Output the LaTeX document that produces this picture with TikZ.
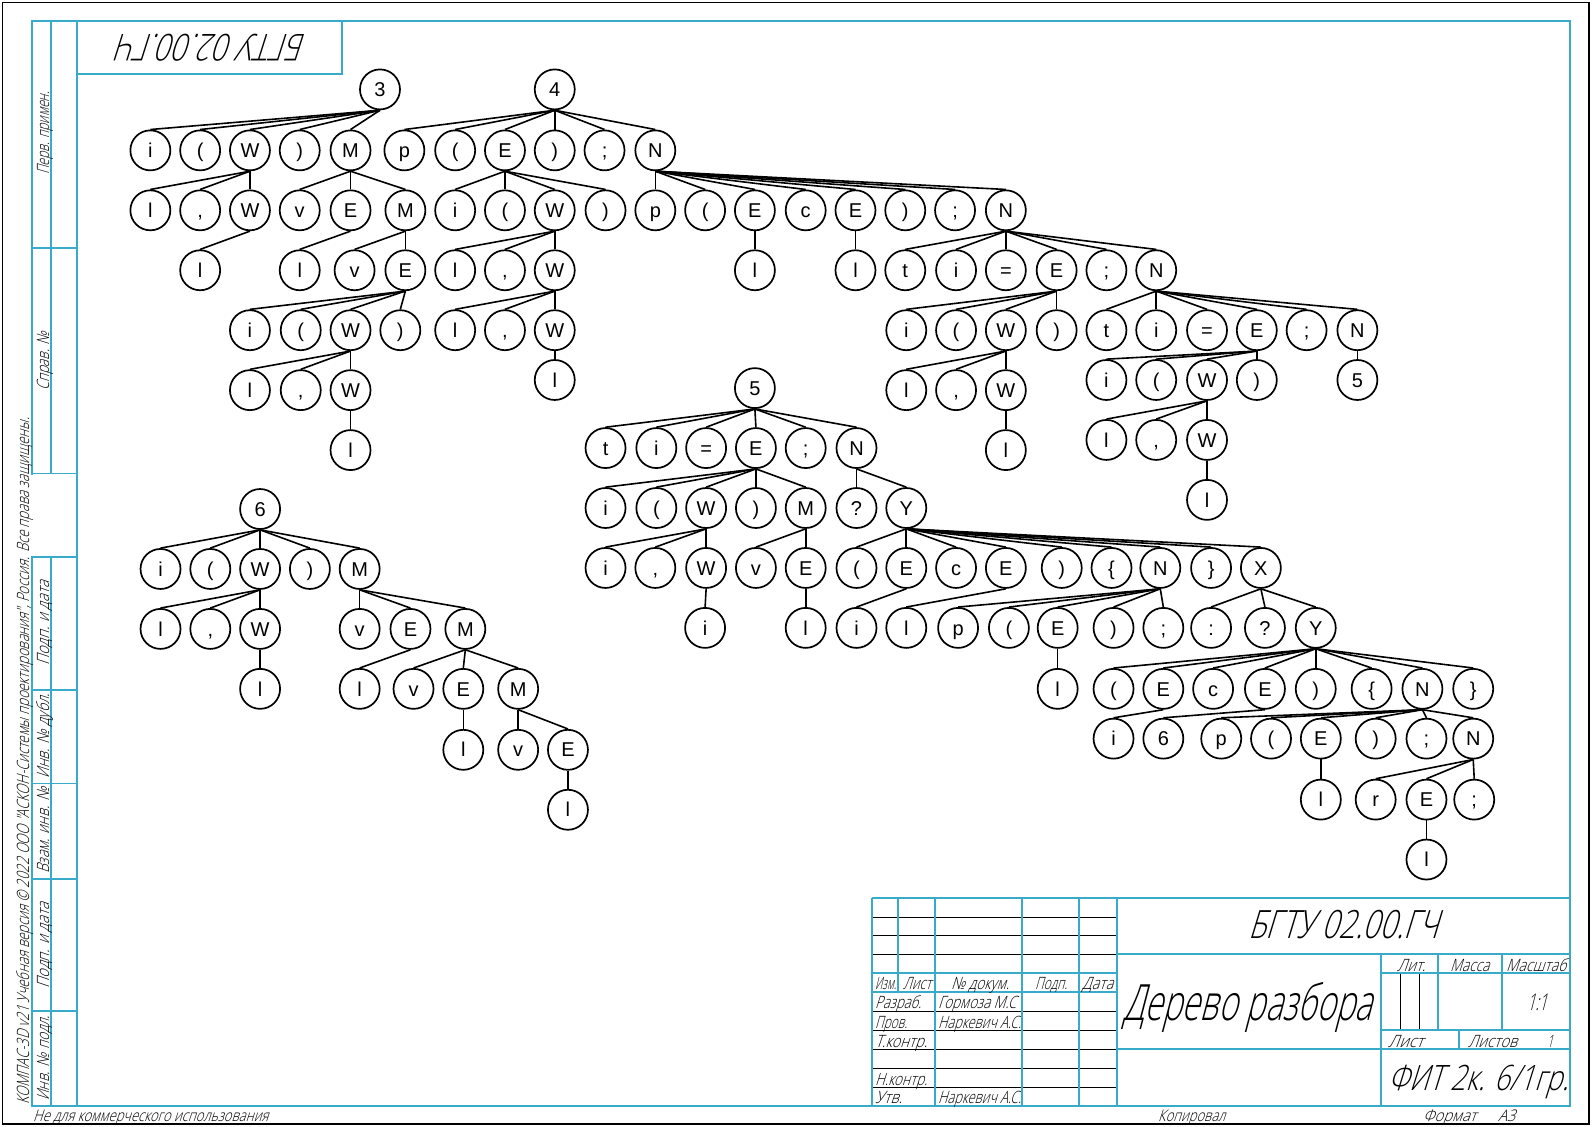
\documentclass[tikz,border=0pt]{standalone}
\usepackage{fontspec}
\usepackage{graphicx}
\setmainfont{Liberation Sans}
\newfontfamily\gost[FakeStretch=0.7,FakeSlant=0.28]{Open Sans Light}
\definecolor{fr}{HTML}{38ABCB}
\newcount\lblc
\newcommand{\lbl}[5]{% x1 x2 baseline size text
  \global\advance\lblc by 1
  \pgfmathsetmacro{\lw}{#2-#1}%
  \node[anchor=base west,inner sep=0pt] (lbl\the\lblc) at (#1,#3) {\fontsize{#4}{#4}\selectfont\gost\resizebox{\lw pt}{\height}{#5}};}
\newcommand{\vlbl}[5]{% y-bottom y-top baseline-x size text
  \global\advance\lblc by 1
  \pgfmathsetmacro{\lw}{#1-#2}%
  \node[anchor=base west,inner sep=0pt,rotate=90] (lbl\the\lblc) at (#3,#1) {\fontsize{#4}{#4}\selectfont\gost\resizebox{\lw pt}{\height}{#5}};}
\newcommand{\tn}[4]{\node[tnode] (#1) at (#2,#3) {#4};}
\newcommand{\kids}[2]{\foreach \c in {#2}{\draw[tedge] (#1.south) -- (\c.north);}}
\tikzset{
  tnode/.style={circle,draw=black,line width=1.7pt,fill=white,minimum size=40pt,inner sep=0pt,text height=14.3pt,text depth=0pt,font=\fontsize{20}{20}\selectfont},
  tedge/.style={draw=black,line width=1.6pt},
  fline/.style={draw=fr,line width=1.7pt},
  bline/.style={draw=black,line width=0.9pt}
}
\begin{document}
\begin{tikzpicture}[x=1pt,y=-1pt]
\path[use as bounding box,fill=white] (0,0) rectangle (1593,1127);
\draw[black,line width=1.2pt] (2.3,2.3) rectangle (1589,1124);
% thin table lines
\foreach \y in {917.3,935.3,954.3,1011,1030,1049,1068.3,1087.3}{\draw[bline] (871.7,\y) -- (1117,\y);}
\foreach \x in {1400.3,1419.3}{\draw[bline] (\x,973.3) -- (\x,1030);}
% frame
\draw[fline] (32.3,21) rectangle (1570,1105.7);
\draw[fline] (51,21) -- (51,473.5);
\draw[fline] (51,557) -- (51,1105.7);
\draw[fline] (77,21) -- (77,1105.7);
\draw[draw=white,line width=2.2pt] (32.3,474.5) -- (32.3,556);
\foreach \y in {248,473.5,557,690,783.5,879,1011}{\draw[fline] (32.3,\y) -- (77,\y);}
\draw[fline] (77,74) -- (342,74) -- (342,21);
% title block
\draw[fline] (871.7,898.3) -- (1570,898.3);
\draw[fline] (871.7,898.3) -- (871.7,1105.7);
\draw[fline] (871.7,973.3) -- (1117,973.3);
\draw[fline] (871.7,991.7) -- (1117,991.7);
\draw[fline] (898.3,898.3) -- (898.3,991.7);
\foreach \x in {935,1022,1079,1117}{\draw[fline] (\x,898.3) -- (\x,1105.7);}
\draw[fline] (1117,954.3) -- (1570,954.3);
\draw[fline] (1117,1049) -- (1570,1049);
\draw[fline] (1381,954.3) -- (1381,1105.7);
\draw[fline] (1381,973.3) -- (1570,973.3);
\draw[fline] (1381,1030) -- (1570,1030);
\draw[fline] (1438,954.3) -- (1438,1030);
\draw[fline] (1502,954.3) -- (1502,1030);
\draw[fline] (1459,1030) -- (1459,1049);
% stamp texts
\node[anchor=base,inner sep=0pt,rotate=180] (mirror) at (213,34) {\fontsize{37}{37}\selectfont\gost\resizebox{188pt}{\height}{БГТУ 02.00.ГЧ}};
\lbl{1248}{1438}{938}{39}{БГТУ 02.00.ГЧ}
\lbl{1123}{1372}{1020}{50}{Дерево разбора}
\lbl{1388}{1568}{1090}{35}{ФИТ 2к. 6/1гр.}
\lbl{875}{896}{989}{17}{Изм.}
\lbl{903}{931}{989}{17}{Лист}
\lbl{951}{1009}{989}{17}{№ докум.}
\lbl{1035}{1067}{989}{17}{Подп.}
\lbl{1082}{1113}{989}{17}{Дата}
\lbl{875}{921}{1008}{17}{Разраб.}
\lbl{938}{1016}{1008}{17}{Гормоза М.С}
\lbl{875}{907}{1028}{17}{Пров.}
\lbl{938}{1021}{1028}{17}{Наркевич А.С.}
\lbl{875}{927}{1047}{17}{Т.контр.}
\lbl{875}{927}{1085}{17}{Н.контр.}
\lbl{875}{902}{1103}{17}{Утв.}
\lbl{938}{1021}{1103}{17}{Наркевич А.С.}
\lbl{1397}{1425}{971}{17}{Лит.}
\lbl{1450}{1489}{971}{17}{Масса}
\lbl{1506}{1566}{971}{17}{Масштаб}
\lbl{1527}{1547}{1010}{23}{1:1}
\lbl{1388}{1423}{1047}{17}{Лист}
\lbl{1468}{1517}{1047}{17}{Листов}
\lbl{1547}{1553}{1047}{17}{1}
\lbl{33}{268}{1121}{16}{Не для коммерческого использования}
\lbl{1158}{1225}{1121}{16}{Копировал}
\lbl{1423}{1476}{1121}{16}{Формат}
\lbl{1498}{1515}{1121}{16}{А3}
\vlbl{175}{92}{49}{17}{Перв. примен.}
\vlbl{391}{332}{49}{17}{Справ. №}
\vlbl{666}{581}{49}{17}{Подп. и дата}
\vlbl{779}{694}{49}{17}{Инв. № дубл.}
\vlbl{874}{788}{49}{17}{Взам. инв. №}
\vlbl{989}{903}{49}{17}{Подп. и дата}
\vlbl{1101}{1016}{49}{17}{Инв. № подл.}
\vlbl{1105}{418}{29}{17}{КОМПАС-3D v21 Учебная версия © 2022 ООО "АСКОН-Системы проектирования", Россия. Все права защищены.}
\begin{scope}[x=1.016pt,y=-1.016pt]
% tree 3
\tn{a0}{374}{88}{3}
\tn{a1}{148}{148}{i}\tn{a2}{197}{148}{(}\tn{a3}{246}{148}{W}\tn{a4}{295}{148}{)}\tn{a5}{345}{148}{M}
\tn{a6}{148}{207}{l}\tn{a7}{197}{207}{,}\tn{a8}{246}{207}{W}
\tn{a9}{197}{266}{l}
\tn{a10}{295}{207}{v}\tn{a11}{345}{207}{E}\tn{a12}{399}{207}{M}
\tn{a13}{295}{266}{l}\tn{a14}{349}{266}{v}\tn{a15}{399}{266}{E}
\tn{a16}{246}{325}{i}\tn{a17}{296}{325}{(}\tn{a18}{345}{325}{W}\tn{a19}{394}{325}{)}
\tn{a20}{246}{384}{l}\tn{a21}{296}{384}{,}\tn{a22}{345}{384}{W}
\tn{a23}{345}{443}{l}
\kids{a0}{a1,a2,a3,a4,a5}\kids{a3}{a6,a7,a8}\kids{a8}{a9}\kids{a5}{a10,a11,a12}\kids{a11}{a13}\kids{a12}{a14,a15}\kids{a15}{a16,a17,a18,a19}\kids{a18}{a20,a21,a22}\kids{a22}{a23}
% tree 4
\tn{b0}{546}{88}{4}
\tn{b1}{398}{148}{p}\tn{b2}{448}{148}{(}\tn{b3}{497}{148}{E}\tn{b4}{546}{148}{)}\tn{b5}{595}{148}{;}\tn{b6}{645}{148}{N}
\tn{b7}{448}{207}{i}\tn{b8}{497}{207}{(}\tn{b9}{546}{207}{W}\tn{b10}{596}{207}{)}
\tn{b11}{448}{266}{l}\tn{b12}{497}{266}{,}\tn{b13}{546}{266}{W}
\tn{b14}{448}{325}{l}\tn{b15}{497}{325}{,}\tn{b16}{546}{325}{W}
\tn{b17}{546}{374}{l}
\tn{b18}{645}{207}{p}\tn{b19}{694}{207}{(}\tn{b20}{743}{207}{E}\tn{b21}{793}{207}{c}\tn{b22}{842}{207}{E}\tn{b23}{891}{207}{)}\tn{b24}{940}{207}{;}\tn{b25}{990}{207}{N}
\tn{b26}{743}{266}{l}\tn{b27}{842}{266}{l}
\tn{b28}{891}{266}{t}\tn{b29}{941}{266}{i}\tn{b30}{990}{266}{=}\tn{b31}{1040}{266}{E}\tn{b32}{1089}{266}{;}\tn{b33}{1138}{266}{N}
\tn{b34}{892}{325}{i}\tn{b35}{941}{325}{(}\tn{b36}{990}{325}{W}\tn{b37}{1040}{325}{)}
\tn{b38}{892}{384}{l}\tn{b39}{941}{384}{,}\tn{b40}{990}{384}{W}
\tn{b41}{990}{443}{l}
\tn{b42}{1089}{325}{t}\tn{b43}{1138}{325}{i}\tn{b44}{1188}{325}{=}\tn{b45}{1237}{325}{E}\tn{b46}{1286}{325}{;}\tn{b47}{1336}{325}{N}
\tn{b48}{1089}{374}{i}\tn{b49}{1138}{374}{(}\tn{b50}{1188}{374}{W}\tn{b51}{1237}{374}{)}
\tn{b52}{1089}{433}{l}\tn{b53}{1138}{433}{,}\tn{b54}{1188}{433}{W}
\tn{b55}{1188}{492}{l}
\tn{b56}{1336}{374}{5}
\kids{b0}{b1,b2,b3,b4,b5,b6}\kids{b3}{b7,b8,b9,b10}\kids{b9}{b11,b12,b13}\kids{b13}{b14,b15,b16}\kids{b16}{b17}
\kids{b6}{b18,b19,b20,b21,b22,b23,b24,b25}\kids{b20}{b26}\kids{b22}{b27}
\kids{b25}{b28,b29,b30,b31,b32,b33}\kids{b31}{b34,b35,b36,b37}\kids{b36}{b38,b39,b40}\kids{b40}{b41}
\kids{b33}{b42,b43,b44,b45,b46,b47}\kids{b45}{b48,b49,b50,b51}\kids{b50}{b52,b53,b54}\kids{b54}{b55}\kids{b47}{b56}
% tree 5
\tn{c0}{743}{382}{5}
\tn{c1}{596}{441}{t}\tn{c2}{646}{441}{i}\tn{c3}{695}{441}{=}\tn{c4}{744}{441}{E}\tn{c5}{793}{441}{;}\tn{c6}{843}{441}{N}
\tn{c7}{596}{500}{i}\tn{c8}{646}{500}{(}\tn{c9}{695}{500}{W}\tn{c10}{744}{500}{)}\tn{c11}{793}{500}{M}
\tn{c12}{596}{559}{i}\tn{c13}{645}{559}{,}\tn{c14}{695}{559}{W}
\tn{c15}{694}{618}{i}
\tn{c16}{744}{559}{v}\tn{c17}{793}{559}{E}
\tn{c18}{793}{618}{l}
\tn{c19}{843}{500}{?}\tn{c20}{892}{500}{Y}
\tn{c21}{843}{559}{(}\tn{c22}{892}{559}{E}\tn{c23}{941}{559}{c}\tn{c24}{990}{559}{E}\tn{c25}{1045}{559}{)}\tn{c26}{1094}{559}{\{}\tn{c27}{1142}{559}{N}\tn{c28}{1192}{559}{\}}\tn{c29}{1241}{559}{X}
\tn{c30}{843}{618}{i}\tn{c31}{892}{618}{l}
\tn{c32}{943}{618}{p}\tn{c33}{993}{618}{(}\tn{c34}{1041}{618}{E}\tn{c35}{1096}{618}{)}\tn{c36}{1145}{618}{;}
\tn{c37}{1192}{618}{:}\tn{c38}{1245}{618}{?}\tn{c39}{1295}{618}{Y}
\tn{c40}{1041}{678}{l}
\tn{c41}{1096}{678}{(}\tn{c42}{1145}{678}{E}\tn{c43}{1194}{678}{c}\tn{c44}{1245}{678}{E}\tn{c45}{1295}{678}{)}\tn{c46}{1350}{678}{\{}\tn{c47}{1400}{678}{N}\tn{c48}{1450}{678}{\}}
\tn{c49}{1096}{727}{i}\tn{c50}{1145}{727}{6}
\tn{c51}{1202}{727}{p}\tn{c52}{1251}{727}{(}\tn{c53}{1300}{727}{E}\tn{c54}{1354}{727}{)}\tn{c55}{1404}{727}{;}\tn{c56}{1450}{727}{N}
\tn{c57}{1300}{787}{l}
\tn{c58}{1354}{787}{r}\tn{c59}{1404}{787}{E}\tn{c60}{1451}{787}{;}
\tn{c61}{1404}{846}{l}
\kids{c0}{c1,c2,c3,c4,c5,c6}\kids{c4}{c7,c8,c9,c10,c11}\kids{c9}{c12,c13,c14}\kids{c14}{c15}\kids{c11}{c16,c17}\kids{c17}{c18}
\kids{c6}{c19,c20}\kids{c20}{c21,c22,c23,c24,c25,c26,c27,c28,c29}\kids{c22}{c30}\kids{c24}{c31}
\kids{c27}{c32,c33,c34,c35,c36}\kids{c34}{c40}\kids{c29}{c37,c38,c39}
\kids{c39}{c41,c42,c43,c44,c45,c46,c47,c48}\kids{c42}{c49}\kids{c44}{c50}
\kids{c47}{c51,c52,c53,c54,c55,c56}\kids{c53}{c57}\kids{c56}{c58,c59,c60}\kids{c59}{c61}
% tree 6
\tn{d0}{256}{501}{6}
\tn{d1}{158}{560}{i}\tn{d2}{207}{560}{(}\tn{d3}{256}{560}{W}\tn{d4}{305}{560}{)}\tn{d5}{354}{560}{M}
\tn{d6}{158}{619}{l}\tn{d7}{207}{619}{,}\tn{d8}{256}{619}{W}
\tn{d9}{256}{678}{l}
\tn{d10}{354}{619}{v}\tn{d11}{404}{619}{E}\tn{d12}{458}{619}{M}
\tn{d13}{354}{678}{l}\tn{d14}{407}{678}{v}\tn{d15}{456}{678}{E}\tn{d16}{510}{678}{M}
\tn{d17}{456}{738}{l}\tn{d18}{510}{738}{v}\tn{d19}{559}{738}{E}
\tn{d20}{559}{797}{l}
\kids{d0}{d1,d2,d3,d4,d5}\kids{d3}{d6,d7,d8}\kids{d8}{d9}\kids{d5}{d10,d11,d12}\kids{d11}{d13}\kids{d12}{d14,d15,d16}\kids{d15}{d17}\kids{d16}{d18,d19}\kids{d19}{d20}
\end{scope}
\end{tikzpicture}
\end{document}
